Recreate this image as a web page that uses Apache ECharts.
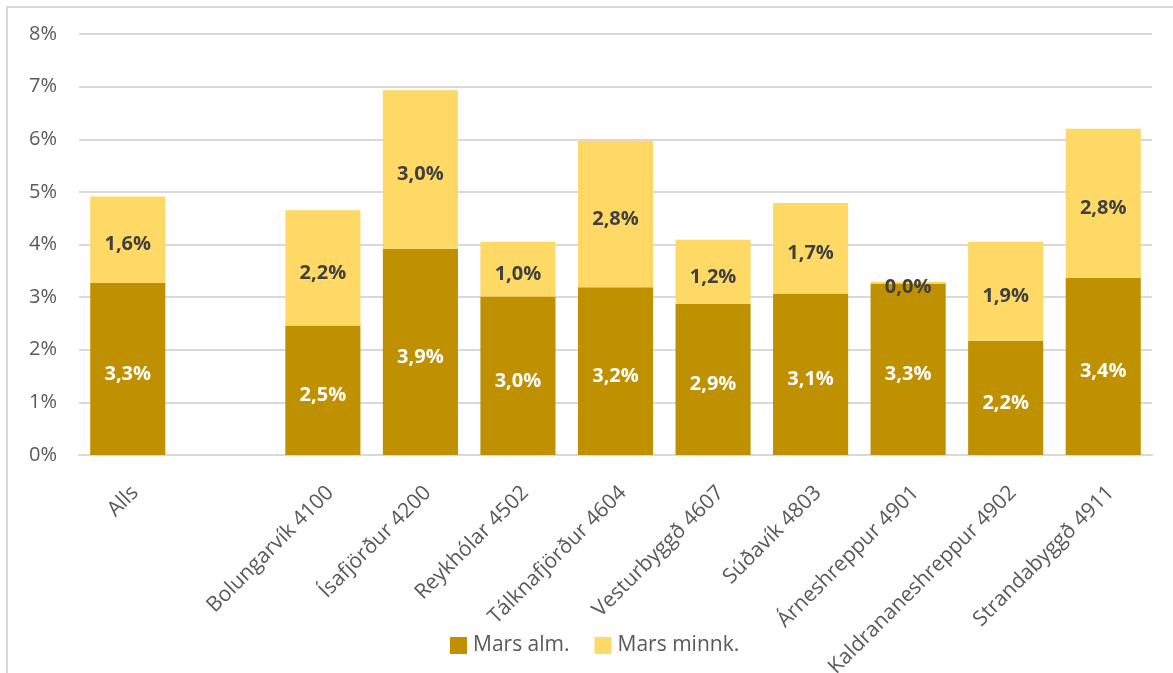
<!DOCTYPE html>
<html>
<head>
<meta charset="utf-8">
<script src="https://cdn.jsdelivr.net/npm/echarts@6/dist/echarts.min.js"></script>
<style>
html,body{margin:0;padding:0;background:#fff;overflow:hidden;}
#frame{position:absolute;left:6px;top:6px;width:1200px;height:700px;border:2px solid #d9d9d9;box-sizing:border-box;}
#chart{position:absolute;left:0;top:0;width:1173px;height:673px;}
</style>
</head>
<body>
<div id="frame"></div>
<div id="chart"></div>
<script>
const categories = ["Alls", "", "Bolungarvík 4100", "Ísafjörður 4200", "Reykhólar 4502", "Tálknafjörður 4604", "Vesturbyggð 4607", "Súðavík 4803", "Árneshreppur 4901", "Kaldrananeshreppur 4902", "Strandabyggð 4911"];
const marsAlm = [3.27, null, 2.46, 3.92, 3.01, 3.19, 2.87, 3.07, 3.26, 2.17, 3.37];
const marsMinnk = [1.64, null, 2.19, 3.01, 1.04, 2.78, 1.22, 1.72, 0.03, 1.88, 2.83];
const yTicks = [0, 1, 2, 3, 4, 5, 6, 7, 8];

const FONT = "Open Sans";
const fmt = p => (p.value == null ? "" : p.value.toFixed(1).replace(".", ",") + "%");

const chart = echarts.init(document.getElementById("chart"), null, {renderer: "canvas"});
chart.setOption({
  animation: false,
  textStyle: {fontFamily: FONT},
  grid: {left: 79, right: 21, top: 34, bottom: 218, containLabel: false, outerBoundsMode: "none"},
  xAxis: {
    type: "category",
    data: categories,
    axisLine: {show: true, lineStyle: {color: "#d9d9d9", width: 2}},
    axisTick: {show: false},
    axisLabel: {rotate: 45, interval: 0, color: "#595959", fontSize: 21, fontFamily: FONT, margin: 27, verticalAlign: "top"}
  },
  yAxis: {
    type: "value",
    min: yTicks[0],
    max: yTicks[yTicks.length - 1],
    interval: 1,
    axisLine: {show: false},
    axisTick: {show: false},
    splitLine: {lineStyle: {color: "#d9d9d9", width: 2}},
    axisLabel: {formatter: "{value}%", color: "#595959", fontSize: 20, fontFamily: FONT, margin: 22}
  },
  legend: {
    top: 630,
    left: 445,
    itemWidth: 17,
    itemHeight: 17,
    itemGap: 25,
    icon: "rect",
    textStyle: {color: "#595959", fontSize: 21, fontFamily: FONT, padding: [0, 0, 0, 1]},
    data: ["Mars alm.", "Mars minnk."]
  },
  series: [
    {
      name: "Mars alm.",
      type: "bar",
      stack: "s",
      barWidth: "77%",
      data: marsAlm,
      itemStyle: {color: "#bf9000"},
      label: {show: true, position: "inside", offset: [0, 5], formatter: fmt, color: "#ffffff", fontWeight: "bold", fontSize: 20, fontFamily: FONT}
    },
    {
      name: "Mars minnk.",
      type: "bar",
      stack: "s",
      barWidth: "77%",
      data: marsMinnk,
      itemStyle: {color: "#ffd966"},
      label: {show: true, position: "inside", offset: [0, 5], formatter: fmt, color: "#404040", fontWeight: "bold", fontSize: 20, fontFamily: FONT}
    }
  ]
});
</script>
</body>
</html>
